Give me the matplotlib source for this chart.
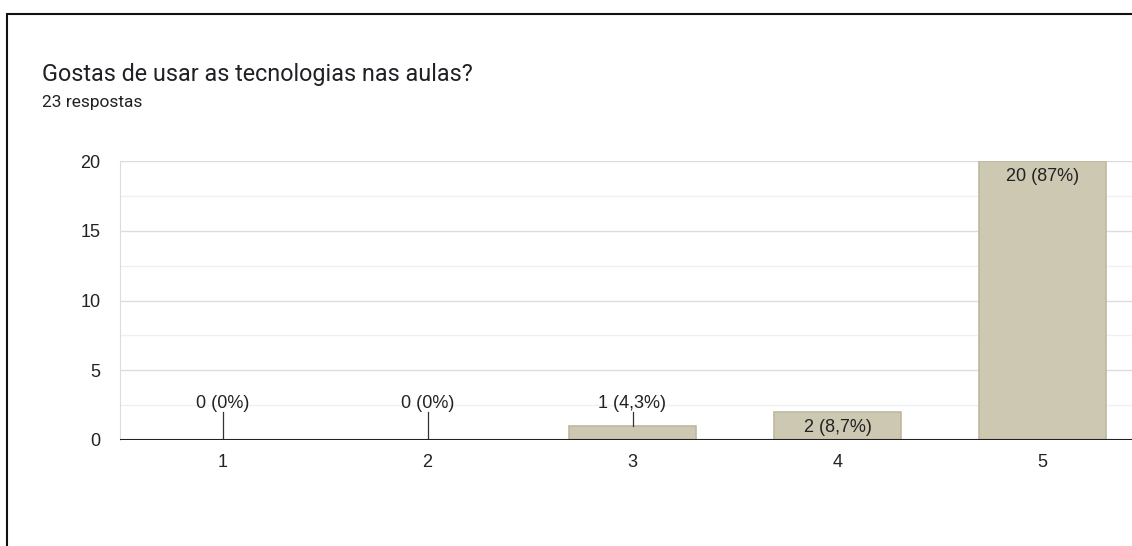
import matplotlib.pyplot as plt
from matplotlib.patches import Rectangle

# dados do inquérito
title = "Gostas de usar as tecnologias nas aulas?"
subtitle = "23 respostas"
categories = [1, 2, 3, 4, 5]
counts = [0, 0, 1, 2, 20]
pct_labels = ["0 (0%)", "0 (0%)", "1 (4,3%)", "2 (8,7%)", "20 (87%)"]

BAR_COLOR = "#ccc8b2"
EDGE_COLOR = "#bdb99f"
LABEL_FS = 13

fig = plt.figure(figsize=(11.32, 5.46), dpi=100)
ax = fig.add_axes([120 / 1132, 106 / 546, 1012 / 1132, 279 / 546])

ax.bar(categories, counts, width=0.615, color=BAR_COLOR,
       edgecolor=EDGE_COLOR, linewidth=1.2, zorder=3)

# etiquetas das barras
for x, v, lab in zip(categories, counts, pct_labels):
    if v >= 2:
        ax.annotate(lab, (x, v), xytext=(0, -5), textcoords="offset points",
                    ha="center", va="top", fontsize=LABEL_FS,
                    family="Liberation Sans", color="#222222", zorder=4)
    else:
        ax.plot([x, x], [v, 2.0], color="#333333", lw=0.9, zorder=4)
        ax.annotate(lab, (x, 2.0), xytext=(0, 0), textcoords="offset points",
                    ha="center", va="bottom", fontsize=LABEL_FS,
                    family="Liberation Sans", color="#222222", zorder=4)

ax.set_xlim(0.5, 0.5 + 1012 / 205)
ax.set_ylim(0, 20)
ax.set_xticks(categories)
ax.set_yticks([0, 5, 10, 15, 20])
ax.set_yticks([2.5, 7.5, 12.5, 17.5], minor=True)
ax.grid(axis="y", which="major", color="#dcdcdc", lw=1.0, zorder=0)
ax.grid(axis="y", which="minor", color="#f0f0f0", lw=1.0, zorder=0)
ax.axhline(0, color="#222222", lw=1.5, zorder=5)

for s in ["top", "right", "bottom"]:
    ax.spines[s].set_visible(False)
ax.spines["left"].set_color("#dcdcdc")
ax.tick_params(axis="both", which="both", length=0, labelsize=LABEL_FS,
               colors="#222222")
ax.tick_params(axis="y", pad=14)
ax.tick_params(axis="x", pad=10)
for t in ax.get_xticklabels() + ax.get_yticklabels():
    t.set_family("Liberation Sans")

fig.text(42 / 1132, 1 - 74 / 546, title, fontsize=16.8, family="Roboto",
         va="center", ha="left", color="#202124")
fig.text(42 / 1132, 1 - 102 / 546, subtitle, fontsize=12.5, family="Roboto",
         va="center", ha="left", color="#202124")

# moldura preta (cortada à direita e em baixo)
fig.patches.append(Rectangle((7 / 1132, -0.1), 1.2, 0.1 + (546 - 14) / 546,
                             transform=fig.transFigure, fill=False,
                             edgecolor="#111111", lw=1.5))

plt.savefig("out.png", dpi=100)
